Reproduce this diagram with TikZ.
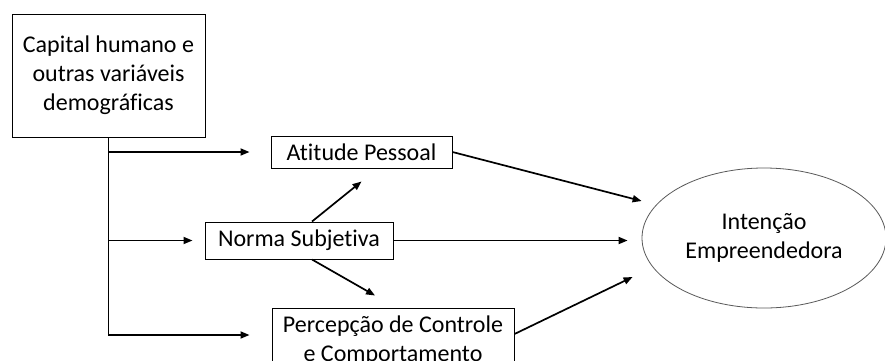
\documentclass[tikz,border=0pt]{standalone}
\usepackage{fontspec}
\setmainfont{Carlito}[Ligatures=NoCommon]
\usetikzlibrary{arrows.meta,shapes.geometric}
\tikzset{
  box/.style={draw=black, line width=1pt, align=center, inner sep=0pt, font=\fontsize{24}{29}\selectfont},
  oval/.style={ellipse, draw=black!65, line width=0.8pt, align=center, inner sep=0pt, font=\fontsize{24}{29}\selectfont},
  conn/.style={line width=1.7pt, -{Triangle[length=9pt,width=7pt]}},
}
\begin{document}
\begin{tikzpicture}[x=1pt,y=-1pt]
\clip (0,0) rectangle (885,360);
\fill[white] (0,0) rectangle (885,360);
\node[box, minimum width=193pt, minimum height=123pt] (cap) at (108.5,75.5) {Capital humano e\\outras variáveis\\demográficas};
\node[box, minimum width=181pt, minimum height=32pt] (att) at (361.5,152) {Atitude Pessoal};
\node[box, minimum width=188pt, minimum height=37pt] (norma) at (299,240.5) {Norma Subjetiva};
\node[box, minimum width=242pt, minimum height=66pt] (perc) at (393,341) {Percepção de Controle\\e Comportamento};
\node[oval, minimum width=244pt, minimum height=140pt] (int) at (764,238) {Intenção\\Empreendedora};

\draw[conn, shorten >=21pt] (cap.south) |- (att.west);
\draw[conn, shorten >=12pt] (cap.south) |- (norma.west);
\draw[conn, shorten >=22pt] (cap.south) |- ([yshift=6pt]perc.west);

\draw[conn] ([xshift=13pt]norma.north) -- ([yshift=-13pt]att.south);
\draw[conn] ([xshift=13pt]norma.south) -- ([xshift=-18pt,yshift=12pt]perc.north);

\draw[conn] (att.east) -- ([yshift=37pt]int.west);
\draw[conn, shorten >=14pt] (norma.east) -- (norma.east -| int.west);
\draw[conn] ([yshift=7pt]perc.east) -- ([xshift=-9pt,yshift=-39pt]int.west);
\end{tikzpicture}
\end{document}
